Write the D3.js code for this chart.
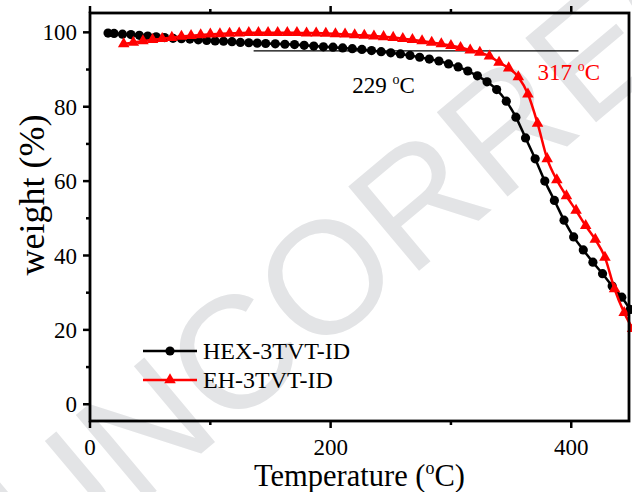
<!DOCTYPE html>
<html>
<head>
<meta charset="utf-8">
<script src="https://cdn.jsdelivr.net/npm/d3@7/dist/d3.min.js"></script>
<style>
    body { margin: 0; background: #fff; }
    #chart { width: 632px; height: 492px; }
    text { font-family: "Liberation Serif", "Times New Roman", serif; }
</style>
</head>
<body>
<div id="chart"></div>
<script>
// HEX-3TVT-ID, black with circles
const hexTemp = [15, 20, 27, 34, 41, 48, 55, 62, 69, 76, 83, 90, 97, 104, 111, 118, 125, 132, 139, 146,
    154, 162, 170, 178, 186, 194, 202, 210, 218, 226, 234, 242, 250, 258, 266, 274, 282, 290, 298, 306,
    314, 322, 330, 338, 346, 354, 362, 370, 378, 386, 394, 402, 410, 418, 426, 434, 442, 449];
const hexWeight = [99.8, 99.7, 99.5, 99.4, 99.2, 99.0, 98.8, 98.6, 98.4, 98.3, 98.2, 98.0, 97.8, 97.7, 97.6, 97.5, 97.3, 97.2, 97.1, 97.0,
    96.9, 96.8, 96.7, 96.5, 96.3, 96.1, 96.0, 95.8, 95.6, 95.4, 95.1, 94.8, 94.5, 94.2, 93.8, 93.3, 92.8, 92.3, 91.5, 90.7,
    89.6, 88.3, 86.7, 84.6, 81.5, 77.2, 71.6, 66.0, 60.0, 54.8, 49.5, 45.0, 41.5, 38.2, 35.1, 31.8, 28.8, 25.5];

// EH-3TVT-ID, red with triangles
const ehTemp = [28, 36, 44, 52, 60, 68, 76, 84, 92, 100, 108, 116, 124, 132, 140, 148, 156, 164, 172, 180,
    188, 196, 204, 212, 220, 228, 236, 244, 252, 260, 268, 276, 284, 292, 300, 308, 316, 324, 332, 340,
    348, 356, 364, 372, 380, 388, 396, 404, 412, 420, 428, 436, 444, 451];
const ehWeight = [96.9, 97.3, 97.7, 98.0, 98.3, 98.6, 98.9, 99.1, 99.3, 99.5, 99.6, 99.7, 99.8, 99.9, 99.9, 99.9, 99.9, 99.9, 99.9, 99.8,
    99.8, 99.7, 99.6, 99.5, 99.3, 99.2, 99.0, 98.8, 98.6, 98.3, 98.0, 97.7, 97.3, 96.9, 96.4, 95.9, 95.2, 94.6, 93.6, 91.9,
    90.4, 88.0, 83.4, 75.5, 66.0, 60.3, 56.0, 52.1, 48.0, 44.3, 39.5, 31.0, 24.6, 20.3];

const seriesNames = ["HEX-3TVT-ID", "EH-3TVT-ID"];
const seriesColors = ["#000000", "#ff0000"];
const xMajor = [0, 200, 400];
const xMinor = [100, 300];
const yMajor = [0, 20, 40, 60, 80, 100];
const yMinor = [10, 30, 50, 70, 90];
const onsetTemps = [229, 317];      // 5% weight loss temperatures
const onsetLevel = 95;
const onsetSpan = [136, 406];

const width = 632;
const height = 492;
const margin = {left: 90, right: 3, top: 13, bottom: 71};

const svg = d3.select("#chart")
    .append("svg")
    .attr("width", width)
    .attr("height", height);

svg.append("rect")
    .attr("width", width)
    .attr("height", height)
    .attr("fill", "#fff");

// watermark of the proof
svg.append("text")
    .attr("transform", "translate(48,582) rotate(-40)")
    .style("font-family", "'Liberation Sans', 'DejaVu Sans', sans-serif")
    .style("font-size", "160px")
    .style("fill", "#e3e4e6")
    .text("UNCORRECTED PROOF");

const x = d3.scaleLinear()
    .domain([0, 448])
    .range([margin.left, width - margin.right]);
const y = d3.scaleLinear()
    .domain([-4.5, 105.2])
    .range([height - margin.bottom, margin.top]);

const x0 = margin.left, x1 = width - margin.right;
const y0 = height - margin.bottom, y1 = margin.top;

// ticks (outward), bottom + top
function xTick(v, len){
    svg.append("line").attr("x1", x(v)).attr("x2", x(v))
        .attr("y1", y0).attr("y2", y0 + len)
        .attr("stroke", "#000").attr("stroke-width", 2.5);
    svg.append("line").attr("x1", x(v)).attr("x2", x(v))
        .attr("y1", y1).attr("y2", y1 - len)
        .attr("stroke", "#000").attr("stroke-width", 2.5);
}
xMajor.forEach(v => xTick(v, 7));
xMinor.forEach(v => xTick(v, 4));

function yTick(v, len){
    svg.append("line").attr("x1", x0).attr("x2", x0 - len)
        .attr("y1", y(v)).attr("y2", y(v))
        .attr("stroke", "#000").attr("stroke-width", 2.5);
}
yMajor.forEach(v => yTick(v, 7));
yMinor.forEach(v => yTick(v, 4));

svg.selectAll(".xlab")
    .data(xMajor)
    .enter().append("text")
    .attr("x", d => x(d))
    .attr("y", y0 + 34)
    .attr("text-anchor", "middle")
    .style("font-size", "23px")
    .text(d => d);

svg.selectAll(".ylab")
    .data(yMajor)
    .enter().append("text")
    .attr("x", x0 - 13)
    .attr("y", d => y(d))
    .attr("dy", ".35em")
    .attr("text-anchor", "end")
    .style("font-size", "23px")
    .text(d => d);

// axis titles
const xt = svg.append("text")
    .attr("x", (x0 + x1) / 2)
    .attr("y", 486)
    .attr("text-anchor", "middle")
    .style("font-size", "30.5px");
xt.append("tspan").text("Temperature (");
xt.append("tspan").attr("dy", -12).style("font-size", "18px").text("o");
xt.append("tspan").attr("dy", 12).text("C)");

svg.append("text")
    .attr("transform", "translate(44,195) rotate(-90)")
    .attr("text-anchor", "middle")
    .style("font-size", "36px")
    .text("weight (%)");

// 5% weight loss line
svg.append("line")
    .attr("x1", x(onsetSpan[0])).attr("x2", x(onsetSpan[1]))
    .attr("y1", y(onsetLevel)).attr("y2", y(onsetLevel))
    .attr("stroke", "#000").attr("stroke-width", 1.3);

function onsetLabel(t, lx, ly, color){
    const lab = svg.append("text")
        .attr("x", x(lx)).attr("y", y(ly))
        .style("font-size", "23px")
        .style("fill", color);
    lab.append("tspan").text(t + " ");
    lab.append("tspan").attr("dy", -9).style("font-size", "14px").text("o");
    lab.append("tspan").attr("dy", 9).text("C");
}
onsetLabel(onsetTemps[0], 218, 83.7, seriesColors[0]);
onsetLabel(onsetTemps[1], 372, 87.2, seriesColors[1]);

// curves
const line = d3.line()
    .x(d => x(d[0]))
    .y(d => y(d[1]))
    .curve(d3.curveMonotoneX);

const hexData = hexTemp.map((t, i) => [t, hexWeight[i]]);
const ehData = ehTemp.map((t, i) => [t, ehWeight[i]]);

svg.append("path")
    .datum(hexData)
    .attr("d", line)
    .attr("fill", "none")
    .attr("stroke", seriesColors[0])
    .attr("stroke-width", 2.5);
svg.selectAll(".hexpt")
    .data(hexData)
    .enter().append("circle")
    .attr("cx", d => x(d[0]))
    .attr("cy", d => y(d[1]))
    .attr("r", 4.6)
    .attr("fill", seriesColors[0]);

const tri = d3.symbol().type(d3.symbolTriangle).size(58);
svg.append("path")
    .datum(ehData)
    .attr("d", line)
    .attr("fill", "none")
    .attr("stroke", seriesColors[1])
    .attr("stroke-width", 2.5);
svg.selectAll(".ehpt")
    .data(ehData)
    .enter().append("path")
    .attr("d", tri)
    .attr("transform", d => `translate(${x(d[0])},${y(d[1])})`)
    .attr("fill", seriesColors[1]);

// frame
svg.append("rect")
    .attr("x", x0).attr("y", y1)
    .attr("width", x1 - x0).attr("height", y0 - y1)
    .attr("fill", "none")
    .attr("stroke", "#000")
    .attr("stroke-width", 2.8);

// legend
const legendY = [351, 380];
seriesNames.forEach((name, i) => {
    svg.append("line")
        .attr("x1", 143).attr("x2", 197)
        .attr("y1", legendY[i]).attr("y2", legendY[i])
        .attr("stroke", seriesColors[i]).attr("stroke-width", 2.5);
    if (i == 0) {
        svg.append("circle").attr("cx", 170).attr("cy", legendY[i]).attr("r", 4.6).attr("fill", seriesColors[i]);
    } else {
        svg.append("path").attr("d", tri).attr("transform", `translate(170,${legendY[i]})`).attr("fill", seriesColors[i]);
    }
    svg.append("text")
        .attr("x", 203).attr("y", legendY[i])
        .attr("dy", ".35em")
        .style("font-size", "24px")
        .text(name);
});
</script>
</body>
</html>
